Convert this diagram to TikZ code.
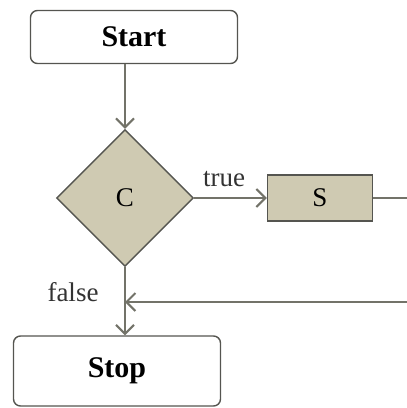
\documentclass[tikz,border=0pt]{standalone}
\usepackage{fontspec}
\setmainfont{Liberation Serif}
\usetikzlibrary{positioning, shapes.geometric, arrows.meta}

\definecolor{flowline}{RGB}{115,115,105}
\definecolor{boxedge}{RGB}{85,85,80}
\definecolor{khaki}{RGB}{207,202,178}

\begin{document}
\begin{tikzpicture}[x=1pt, y=-1pt,
    terminal/.style={draw=boxedge, line width=1.4pt, rounded corners=7pt, fill=white,
        minimum width=207pt, font=\fontsize{30}{32}\selectfont\bfseries},
    decision/.style={diamond, draw=boxedge, line width=1.4pt, fill=khaki, inner sep=0pt,
        minimum width=137pt, minimum height=137pt, font=\fontsize{27}{29}\selectfont},
    process/.style={draw=boxedge, line width=1.4pt, fill=khaki,
        minimum width=105pt, minimum height=46pt, font=\fontsize{27}{29}\selectfont},
    flow/.style={draw=flowline, line width=2.4pt, -{Straight Barb[length=9pt, width=18pt, line width=2pt]}},
    lbl/.style={font=\fontsize{27}{29}\selectfont, text=black!80}
]
    \clip (0, 0) rectangle (407, 408);

    \node [terminal, minimum height=53pt] (start) at (134, 37) {Start};
    \node [decision] (cond) at (125, 198) {C};
    \node [process] (body) at (320, 198) {S};
    \node [terminal, minimum height=70pt] (stop) at (117, 371) {Stop};
    \coordinate (back) at (125, 302);

    \draw [flow] (start.south -| cond.north) -- (cond.north);
    \draw [flow] (cond.east) -- (body.west);
    \draw [flow] (body.east) -- ++(60, 0) |- (back);
    \draw [flow] (cond.south) -- (stop.north -| cond.south);

    \node [lbl] (truelbl) at (224, 179) {true};
    \node [lbl] (falselbl) at (73, 292) {false};
\end{tikzpicture}
\end{document}
